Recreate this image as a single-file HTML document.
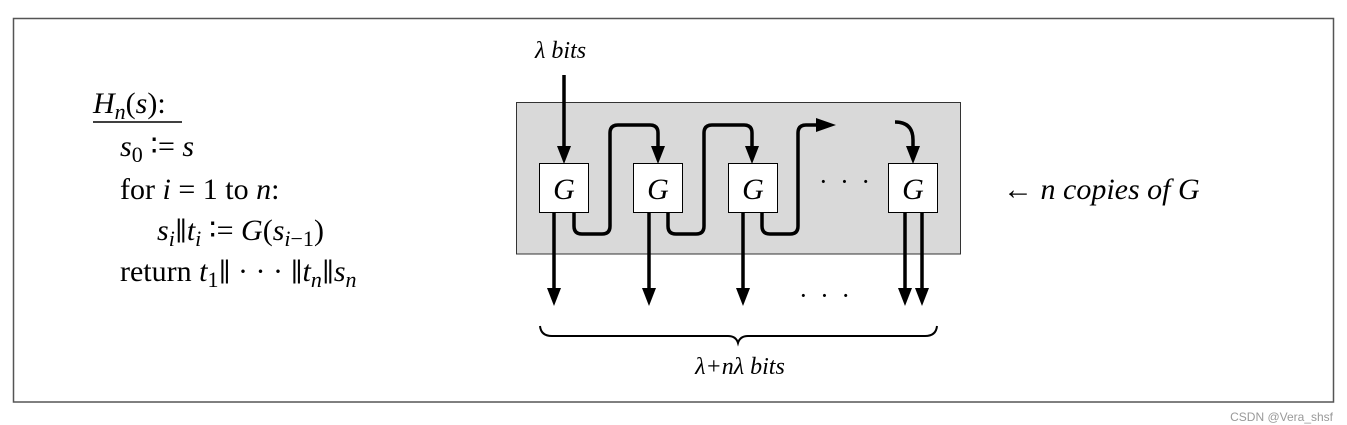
<!DOCTYPE html>
<html><head><meta charset="utf-8"><style>
html,body{margin:0;padding:0;background:#fff;}
svg{display:block;}
text{font-family:"Liberation Serif",serif;fill:#000;}
.i{font-style:italic;}
.b{font-family:"DejaVu Serif",serif;font-style:normal;}
</style></head><body>
<svg width="1347" height="425" viewBox="0 0 1347 425" xmlns="http://www.w3.org/2000/svg">
<rect x="13.5" y="18.5" width="1320" height="383.5" fill="#fff" stroke="#555" stroke-width="1.5"/>
<!-- left text -->
<g font-size="30">
<text x="93" y="113"><tspan class="i">H</tspan><tspan class="i" font-size="22" dy="6">n</tspan><tspan dy="-6">(</tspan><tspan class="i">s</tspan><tspan>):</tspan></text>
<line x1="93" y1="122" x2="182" y2="122" stroke="#000" stroke-width="1.5"/>
<text x="120" y="156"><tspan class="i">s</tspan><tspan font-size="22" dy="6">0</tspan><tspan dy="-6"> ∶= </tspan><tspan class="i">s</tspan></text>
<text x="120" y="199">for <tspan class="i">i</tspan> = 1 to <tspan class="i">n</tspan>:</text>
<text x="157" y="240"><tspan class="i">s</tspan><tspan class="i" font-size="22" dy="6">i</tspan><tspan dy="-6" class="b" font-size="26">∥</tspan><tspan class="i">t</tspan><tspan class="i" font-size="22" dy="6">i</tspan><tspan dy="-6"> ∶= </tspan><tspan class="i">G</tspan>(<tspan class="i">s</tspan><tspan font-size="22" dy="6"><tspan class="i">i</tspan>−1</tspan><tspan dy="-6">)</tspan></text>
<text x="120" y="281">return <tspan class="i">t</tspan><tspan font-size="22" dy="6">1</tspan><tspan dy="-6" class="b" font-size="26">∥</tspan><tspan> · · · </tspan><tspan class="b" font-size="26">∥</tspan><tspan class="i">t</tspan><tspan class="i" font-size="22" dy="6">n</tspan><tspan dy="-6" class="b" font-size="26">∥</tspan><tspan class="i">s</tspan><tspan class="i" font-size="22" dy="6">n</tspan></text>
</g>
<!-- gray box -->
<rect x="516.5" y="102.5" width="444" height="151.5" fill="#d9d9d9" stroke="#333" stroke-width="1"/>
<text x="535" y="58" font-size="24" class="i">λ bits</text>
<g stroke="#000" stroke-width="3.5" fill="none">
<line x1="564" y1="75" x2="564" y2="150"/>
<path d="M574 212 V226 Q574 234 582 234 H602 Q610 234 610 226 V133 Q610 125 618 125 H650 Q658 125 658 133 V150"/>
<path d="M668 212 V226 Q668 234 676 234 H696 Q704 234 704 226 V133 Q704 125 712 125 H744 Q752 125 752 133 V150"/>
<path d="M762 212 V226 Q762 234 770 234 H790 Q798 234 798 226 V133 Q798 125 806 125 H820"/>
<path d="M895 122 Q913 122 913 140 V150"/>
<line x1="554" y1="212" x2="554" y2="290"/>
<line x1="649" y1="212" x2="649" y2="290"/>
<line x1="743" y1="212" x2="743" y2="290"/>
<line x1="905" y1="212" x2="905" y2="290"/>
<line x1="922" y1="212" x2="922" y2="290"/>
</g>
<g fill="#000">
<polygon points="557,146 571,146 564,164"/>
<polygon points="651,146 665,146 658,164"/>
<polygon points="745,146 759,146 752,164"/>
<polygon points="906,146 920,146 913,164"/>
<polygon points="816,118 816,132 836,125"/>
<polygon points="547,288 561,288 554,306"/>
<polygon points="642,288 656,288 649,306"/>
<polygon points="736,288 750,288 743,306"/>
<polygon points="898,288 912,288 905,306"/>
<polygon points="915,288 929,288 922,306"/>
</g>
<g fill="#fff" stroke="#000" stroke-width="1">
<rect x="539.5" y="163.5" width="49" height="49"/>
<rect x="633.5" y="163.5" width="49" height="49"/>
<rect x="728.5" y="163.5" width="49" height="49"/>
<rect x="888.5" y="163.5" width="49" height="49"/>
</g>
<g font-size="30" class="i" text-anchor="middle">
<text x="564" y="199">G</text><text x="658" y="199">G</text><text x="753" y="199">G</text><text x="913" y="199">G</text>
</g>
<text x="846" y="190" font-size="26" text-anchor="middle" letter-spacing="3">· · ·</text>
<text x="826" y="304" font-size="26" text-anchor="middle" letter-spacing="3">· · ·</text>
<path d="M540 326 Q541 336 552 336 H728 Q736 336 738 343 Q740 336 748 336 H925 Q936 336 937 326" fill="none" stroke="#000" stroke-width="2"/>
<text x="740" y="374" font-size="24" class="i" text-anchor="middle">λ+nλ  bits</text>
<text x="1003" y="199" font-size="30"><tspan>← </tspan><tspan class="i">n copies of G</tspan></text>
<text x="1333" y="421" font-size="12" text-anchor="end" style="font-family:'Liberation Sans',sans-serif;fill:#999">CSDN @Vera_shsf</text>
</svg>
</body></html>
